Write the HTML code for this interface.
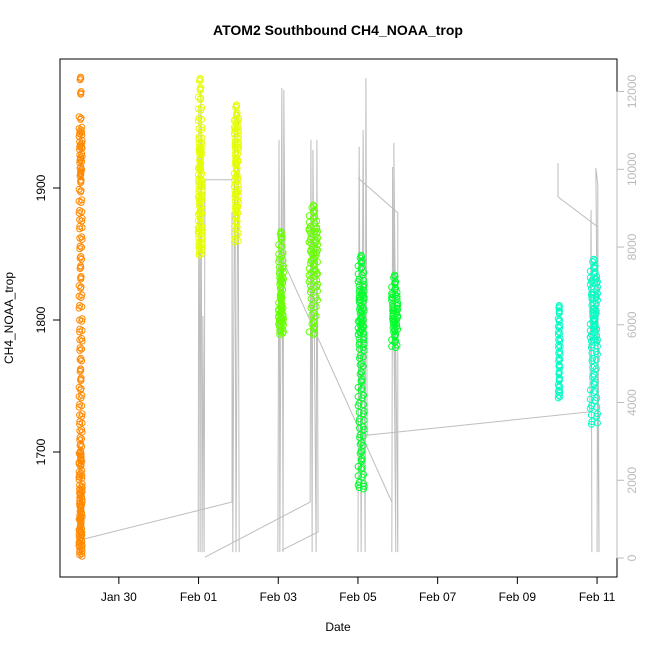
<!DOCTYPE html>
<html><head><meta charset="utf-8"><style>
body{margin:0;background:#fff}
svg text{font-family:"Liberation Sans",sans-serif}
</style></head><body>
<svg id="c" width="650" height="650" xmlns="http://www.w3.org/2000/svg">
<rect width="650" height="650" fill="#fff"/>
<text x="338" y="35" text-anchor="middle" font-size="14" font-weight="bold">ATOM2 Southbound CH4_NOAA_trop</text>
<text x="338" y="631" text-anchor="middle" font-size="12">Date</text>
<text transform="translate(13,318) rotate(-90)" text-anchor="middle" font-size="12">CH4_NOAA_trop</text>
<g id="alt"></g>
<g id="pts"></g>
<rect x="60" y="59" width="557" height="518" fill="none" stroke="#000"/>
<g id="axes"></g>
</svg>
<script>
const xTickLabels=["Jan 30","Feb 01","Feb 03","Feb 05","Feb 07","Feb 09","Feb 11"];
const xTickDays=[1,3,5,7,9,11,13];
const yTicks=[1700,1800,1900];
const altTicks=[0,2000,4000,6000,8000,10000,12000];
const clusterDays=[0.04,3.04,3.95,5.07,5.88,7.08,7.92,12.05,12.92];
const clusterColors=["#FF8800","#E5FF00","#E5FF00","#66FF00","#66FF00","#00FF2B","#00FF2B","#00FFC4","#00FFC4"];
const clusterWidth=[0.05,0.06,0.07,0.08,0.14,0.1,0.1,0.03,0.12];
const clusterValues=[
[1983,1972,1953,1945,1940,1935,1930,1925,1920,1915,1910,1905,1898,1890,1882,1876,1870,1862,1855,1847,1840,1832,1825,1818,1810,1800,1792,1785,1778,1770,1762,1755,1748,1742,1735,1728,1722,1716,1710,1705,1700,1695,1690,1685,1680,1675,1670,1665,1660,1655,1650,1645,1640,1636,1632,1628,1625,1622,1942,1932,1922,1912,1698,1692,1682,1672,1662,1652,1642,1634,1668,1658,1648,1638,1630],
[1982,1975,1968,1960,1952,1945,1938,1934,1930,1926,1922,1918,1914,1910,1906,1902,1898,1894,1890,1886,1882,1878,1874,1870,1866,1862,1858,1854,1850,1928,1916,1904,1892,1880,1868,1856],
[1962,1956,1950,1946,1942,1938,1934,1930,1926,1922,1918,1914,1910,1906,1902,1898,1894,1890,1886,1882,1878,1874,1870,1865,1860,1952,1944,1932,1920,1908,1896,1884],
[1866,1862,1856,1850,1845,1840,1836,1832,1828,1824,1820,1816,1812,1808,1804,1800,1796,1792,1790,1830,1818,1810,1806,1802,1798],
[1886,1882,1878,1874,1870,1866,1862,1858,1854,1850,1846,1842,1838,1834,1830,1826,1822,1816,1810,1804,1798,1794,1790,1868,1860,1852,1844,1836],
[1848,1844,1840,1835,1830,1826,1822,1818,1814,1810,1806,1802,1798,1794,1790,1786,1782,1778,1772,1766,1760,1754,1748,1742,1736,1730,1724,1718,1712,1706,1700,1694,1688,1682,1676,1673,1816,1808,1800,1796,1792,1820],
[1833,1828,1824,1820,1816,1812,1808,1804,1800,1796,1792,1788,1784,1780,1818,1810,1802,1794,1806,1798],
[1810,1806,1800,1795,1790,1785,1780,1775,1770,1765,1760,1755,1750,1746,1742],
[1845,1840,1836,1832,1828,1824,1820,1816,1812,1808,1804,1800,1796,1792,1788,1784,1780,1775,1770,1764,1758,1752,1746,1740,1734,1728,1722,1830,1818,1806,1800,1794,1786]
];
const altDays=[
[0.13,3.84,3.84,3.86,3.91,3.94,3.99,4.02],
[2.99,3.01,3.04,3.06,3.09,3.11,3.14,3.16,3.86],
[3.16,5.80,5.82,5.85,5.87,5.95,5.97,6.00,5.09],
[4.99,5.02,5.04,5.09,5.12,5.14,5.17,7.85],
[7.00,7.03,7.08,7.13,7.18,7.20,7.23,12.82,12.85,12.87],
[7.00,8.00,8.00,7.90,7.95,7.87,7.85],
[12.02,12.02,13.02,13.05,12.97,13.02,13.00]
];
const altValues=[
[490,1440,8900,150,11630,150,11500,150],
[150,11530,150,12040,150,6230,150,9730,9730],
[20,1440,10760,150,10500,150,10760,670,200],
[150,10760,150,12090,150,12040,7540,1440],
[150,10580,150,11010,150,12350,3160,3760,8950,150],
[9780,8880,150,10680,150,10060,150],
[10160,9290,8520,150,10030,9600,150]
];
const NS="http://www.w3.org/2000/svg";
const xs=d=>79+d*39.85;
const ys=v=>188+(1900-v)*1.32;
const ya=a=>558-a*0.03887;
const jit=[0,0.5,-0.5,0.25,-0.25,0.75,-0.75,0.1,-0.4,0.6];
function mk(t,p,a){const e=document.createElementNS(NS,t);for(const k in a)e.setAttribute(k,a[k]);p.appendChild(e);return e;}
const alt=document.getElementById('alt');
altDays.forEach((ds,i)=>{
  const pl=mk('polyline',alt,{points:ds.map((d,j)=>xs(d)+','+ya(altValues[i][j])).join(' '),fill:'none',stroke:'#bdbdbd','stroke-width':1});
  
  
});
const pts=document.getElementById('pts');
clusterValues.forEach((vals,ci)=>{
  vals.forEach((v,k)=>{
    for(let r=0;r<3;r++){
      const j=jit[(k*3+r*7)%jit.length];
      const c=mk('circle',pts,{cx:xs(clusterDays[ci]+j*clusterWidth[ci]),cy:ys(v)+(r-1)*1.3,r:3,fill:'none',stroke:clusterColors[ci],'stroke-width':1});
      
      
    }
  });
});
const ax=document.getElementById('axes');
mk('line',ax,{x1:xs(xTickDays[0]),x2:xs(xTickDays[xTickDays.length-1]),y1:577,y2:577,stroke:'#000'});
xTickDays.forEach((d,i)=>{
  mk('line',ax,{x1:xs(d),x2:xs(d),y1:577,y2:584,stroke:'#000'});
  const t=mk('text',ax,{x:xs(d),y:601,'text-anchor':'middle','font-size':12});
  t.textContent=xTickLabels[i];
  
  
});
mk('line',ax,{x1:60,x2:60,y1:ys(yTicks[0]),y2:ys(yTicks[yTicks.length-1]),stroke:'#000'});
yTicks.forEach(v=>{
  mk('line',ax,{x1:53,x2:60,y1:ys(v),y2:ys(v),stroke:'#000'});
  const t=mk('text',ax,{transform:`translate(45,${ys(v)}) rotate(-90)`,'text-anchor':'middle','font-size':12});
  t.textContent=v;
  
  
});
mk('line',ax,{x1:617,x2:617,y1:ya(0),y2:ya(12000),stroke:'#bbb'});
altTicks.forEach(a=>{
  mk('line',ax,{x1:617,x2:624,y1:ya(a),y2:ya(a),stroke:'#bbb'});
  const t=mk('text',ax,{transform:`translate(636,${ya(a)}) rotate(-90)`,'text-anchor':'middle','font-size':12,fill:'#bbb'});
  t.textContent=a;
  
  
});
</script>
</body></html>
